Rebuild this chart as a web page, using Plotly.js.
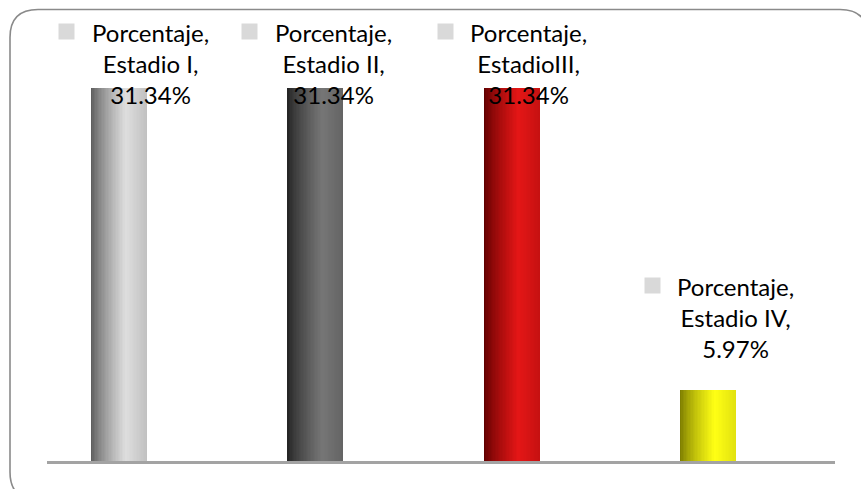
<!DOCTYPE html>
<html>
<head>
<meta charset="utf-8">
<script src="https://cdn.plot.ly/plotly-3.0.1.min.js"></script>
<style>html,body{margin:0;padding:0;background:#fff;}#chart{width:861px;height:489px;}</style>
</head>
<body>
<div id="chart"></div>
<script>
// ---- data ----
const seriesName = "Porcentaje";
const categories = ["Estadio I", "Estadio II", "EstadioIII", "Estadio IV"];
const values = [31.34, 31.34, 31.34, 5.97];

// ---- styles ----
const barShades = [
  {dark: [88, 88, 88],  light: [222, 222, 222]},
  {dark: [34, 34, 34],  light: [118, 118, 118]},
  {dark: [90, 0, 0],    light: [228, 22, 22]},
  {dark: [120, 120, 0], light: [255, 255, 20]}
];
const labelShift = [31, 18, 17, 28];
const W = 861, H = 489;
const M = {l: 47, r: 26, t: 14, b: 28};
const plotW = W - M.l - M.r, plotH = H - M.t - M.b;
const xRange = [-0.3667, 3.6469];
const yMax = 37.56;
const barW = 0.2852;
const N = 40;
const xs = categories.map((c, i) => i);

function mix(a, b, f) {
  return 'rgb(' + a.map((v, k) => Math.round(v + (b[k] - v) * f)).join(',') + ')';
}
function profile(t) {
  if (t < 0.62) return Math.pow(t / 0.62, 0.75);
  return 1 - 0.22 * ((t - 0.62) / 0.38);
}

const traces = [];
for (let s = 0; s < N; s++) {
  const t = (s + 0.5) / N;
  traces.push({
    type: 'bar',
    x: xs,
    y: values,
    name: seriesName,
    width: barW / N * 1.6,
    offset: -barW / 2 + s * barW / N,
    marker: {color: barShades.map(c => mix(c.dark, c.light, profile(t))), line: {width: 0}},
    hoverinfo: 'skip',
    showlegend: false
  });
}
// clip last stripe overlap: final stripe exact width
traces[N - 1].width = barW / N;

// labels
const annotations = [];
const fs = 24;
values.forEach((v, i) => {
  const clamp = v > yMax * 0.6;
  const base = clamp
    ? {yref: 'paper', y: 1, yshift: -2}
    : {yref: 'y', y: v, yshift: 120};
  annotations.push(Object.assign({
    xref: 'x', x: xs[i], xshift: labelShift[i], yanchor: 'top', xanchor: 'center',
    text: seriesName + ',<br>' + categories[i] + ',<br>' + v.toFixed(2) + '%',
    showarrow: false, align: 'center',
    font: {family: 'Lato, "Open Sans", sans-serif', size: fs, color: '#000'}
  }, base));
});
// legend-key squares beside the first line of each label
const squares = annotations.map((a, i) => ({
  xref: 'x', x: a.x, yref: a.yref, y: a.y, yanchor: 'top', xanchor: 'right',
  xshift: labelShift[i] - 62 - 13, yshift: a.yshift - 7,
  text: '', showarrow: false, width: 15, height: 15, bgcolor: '#d9d9d9', borderpad: 0
}));

// rounded border in paper coords
function px(x) { return (x - M.l) / plotW; }
function py(y) { return (H - M.b - y) / plotH; }
const bx0 = 10, by0 = 9.5, bx1 = 868, by1 = 500, rr = 28;
const path = 'M' + px(bx0 + rr) + ',' + py(by0) +
  ' L' + px(bx1 - rr) + ',' + py(by0) +
  ' Q' + px(bx1) + ',' + py(by0) + ' ' + px(bx1) + ',' + py(by0 + rr) +
  ' L' + px(bx1) + ',' + py(by1 - rr) +
  ' Q' + px(bx1) + ',' + py(by1) + ' ' + px(bx1 - rr) + ',' + py(by1) +
  ' L' + px(bx0 + rr) + ',' + py(by1) +
  ' Q' + px(bx0) + ',' + py(by1) + ' ' + px(bx0) + ',' + py(by1 - rr) +
  ' L' + px(bx0) + ',' + py(by0 + rr) +
  ' Q' + px(bx0) + ',' + py(by0) + ' ' + px(bx0 + rr) + ',' + py(by0) + ' Z';

const layout = {
  width: W, height: H,
  margin: M,
  paper_bgcolor: '#fff', plot_bgcolor: '#fff',
  barmode: 'overlay',
  bargap: 0,
  xaxis: {range: xRange, showgrid: false, zeroline: false, showticklabels: false, ticks: '',
          showline: true, linecolor: '#a3a3a3', linewidth: 3, fixedrange: true},
  yaxis: {range: [0, yMax], visible: false, fixedrange: true},
  annotations: annotations.concat(squares),
  shapes: [{type: 'path', xref: 'paper', yref: 'paper', path: path,
            line: {color: '#8a8a8a', width: 1.6}, fillcolor: 'rgba(0,0,0,0)', layer: 'above'}],
  showlegend: false
};

Plotly.newPlot('chart', traces, layout, {staticPlot: true});
</script>
</body>
</html>
